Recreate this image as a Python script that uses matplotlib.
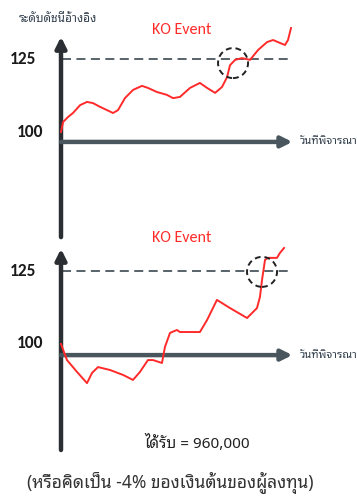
import matplotlib
matplotlib.use("Agg")
import matplotlib.pyplot as plt
from matplotlib.patches import Ellipse

W, H = 357, 497

# index level paths (day 0..100, index value)
up_days = [0, 0.9, 3.0, 5.2, 8.3, 11.3, 13.9, 17.0, 20.0, 22.6, 24.8, 27.8, 31.3,
           35.2, 37.8, 41.7, 46.1, 48.7, 51.7, 56.1, 60.4, 63.5, 67.0, 70.0, 72.2,
           73.5, 75.7, 78.7, 82.2, 85.7, 89.6, 92.2, 95.2, 97.4, 98.7, 100]
up_index = [100.0, 103.4, 105.1, 106.5, 109.2, 110.3, 109.9, 108.6, 107.5, 106.5,
            107.5, 111.6, 114.4, 115.8, 115.1, 113.7, 112.7, 111.6, 112.0, 115.1,
            116.8, 115.1, 113.4, 115.4, 118.8, 122.9, 124.7, 125.3, 124.7, 128.1,
            130.8, 131.5, 130.5, 129.8, 131.5, 135.6]

down_days = [0, 2.6, 7.0, 11.3, 13.5, 16.1, 21.3, 27.0, 31.3, 34.3, 37.8, 40.0,
             43.9, 45.2, 47.4, 50.4, 51.7, 60.4, 63.5, 67.8, 73.5, 80.9, 85.2, 86.5,
             87.4, 88.7, 90.0, 93.9, 95.2, 97.0]
down_index = [100.0, 94.5, 90.4, 86.6, 90.1, 92.1, 91.1, 89.4, 87.7, 90.4, 94.5,
              94.5, 93.5, 99.0, 103.8, 104.8, 104.1, 104.1, 108.2, 115.1, 112.3,
              108.9, 112.3, 116.1, 121.9, 128.8, 129.5, 129.5, 131.2, 132.9]

ko_level = 125
start_level = 100
ko_day_up = 74.8
ko_day_down = 87.4
payout = 960000
loss_pct = -4

AXIS_C = "#4a565e"
RED = "#ff2a2a"
THAI = ["Noto Sans Thai Looped", "Noto Sans Thai", "DejaVu Sans"]
LATIN = ["Carlito", "Lato", "DejaVu Sans"]

PX_PER_DAY = 2.3
PX_PER_PT = 2.92
X0 = 61


def fig_xy(px, py):
    return px / W, 1 - py / H


def make_panel(fig, top_px, bot_px, base_py):
    # one axes per panel; data units are days and index points
    ax = fig.add_axes([0, 1 - bot_px / H, 1, (bot_px - top_px) / H])
    ax.set_xlim(-X0 / PX_PER_DAY, (W - X0) / PX_PER_DAY)
    ax.set_ylim(start_level - (bot_px - base_py) / PX_PER_PT,
                start_level + (base_py - top_px) / PX_PER_PT)
    ax.axis("off")
    return ax


def draw_axes_arrows(ax, y_bottom, y_tip, x_level, x_tip):
    ax.annotate("", xy=(0, y_tip), xytext=(0, y_bottom),
                arrowprops=dict(arrowstyle="-|>", color="#2b2f33", lw=3.2,
                                mutation_scale=16, shrinkA=0, shrinkB=0))
    ax.annotate("", xy=(x_tip, x_level), xytext=(0, x_level),
                arrowprops=dict(arrowstyle="-|>", color=AXIS_C, lw=3.2,
                                mutation_scale=16, shrinkA=0, shrinkB=0))


def ko_circle(ax, day, level):
    r = 15
    ax.add_patch(Ellipse((day, level), 2 * r / PX_PER_DAY, 2 * r / PX_PER_PT,
                         fill=False, ec="#222222", lw=1.4, ls=(0, (3, 2)), zorder=5))


fig = plt.figure(figsize=(W / 100, H / 100), dpi=100)
fig.patch.set_facecolor("white")

# upper panel: index ends above the KO level
ax1 = make_panel(fig, 0, 245, 132)
draw_axes_arrows(ax1, 64.0, 132.6, 96.6, 100.6)
ax1.plot([0.5, 99.5], [ko_level, ko_level], color=AXIS_C, lw=1.3, ls=(0, (5, 3)))
ax1.plot(up_days, up_index, color=RED, lw=1.4, zorder=4)
ko_circle(ax1, ko_day_up, 123.6)

# lower panel: index dips below start before hitting KO
ax2 = make_panel(fig, 245, H, 344)
draw_axes_arrows(ax2, 63.7, 132.6, 96.2, 100.6)
ax2.plot([0.5, 99.5], [ko_level, ko_level], color=AXIS_C, lw=1.3, ls=(0, (5, 3)))
ax2.plot(down_days, down_index, color=RED, lw=1.4, zorder=4)
ko_circle(ax2, ko_day_down, 124.7)

# labels
fig.text(*fig_xy(19, 18), "ระดับดัชนีอ้างอิง", family=THAI, fontsize=8.5,
         weight="semibold", color="#34414f", ha="left", va="center")
for ko_py in [30, 238]:
    fig.text(*fig_xy(182, ko_py), "KO Event", family=LATIN, fontsize=11.5,
             color=RED, ha="center", va="center")
for py125, py100 in [(59, 132), (271, 343)]:
    fig.text(*fig_xy(36, py125), str(ko_level), family=LATIN, fontsize=12.5,
             weight="bold", color="#1a1a1a", ha="right", va="center")
    fig.text(*fig_xy(43, py100), str(start_level), family=LATIN, fontsize=12.5,
             weight="bold", color="#1a1a1a", ha="right", va="center")
for py in [142, 355]:
    fig.text(*fig_xy(300, py), "วันที่พิจารณา", family=THAI, fontsize=8,
             weight="semibold", color="#34414f", ha="left", va="center")

fig.text(*fig_xy(197, 443), f"ได้รับ = {payout:,}", family=THAI, fontsize=11,
         color="#222222", ha="center", va="center")
fig.text(*fig_xy(170, 483), f"(หรือคิดเป็น {loss_pct}% ของเงินต้นของผู้ลงทุน)",
         family=THAI, fontsize=12.5, color="#333333", ha="center", va="center")

fig.savefig("out.png", dpi=100)
